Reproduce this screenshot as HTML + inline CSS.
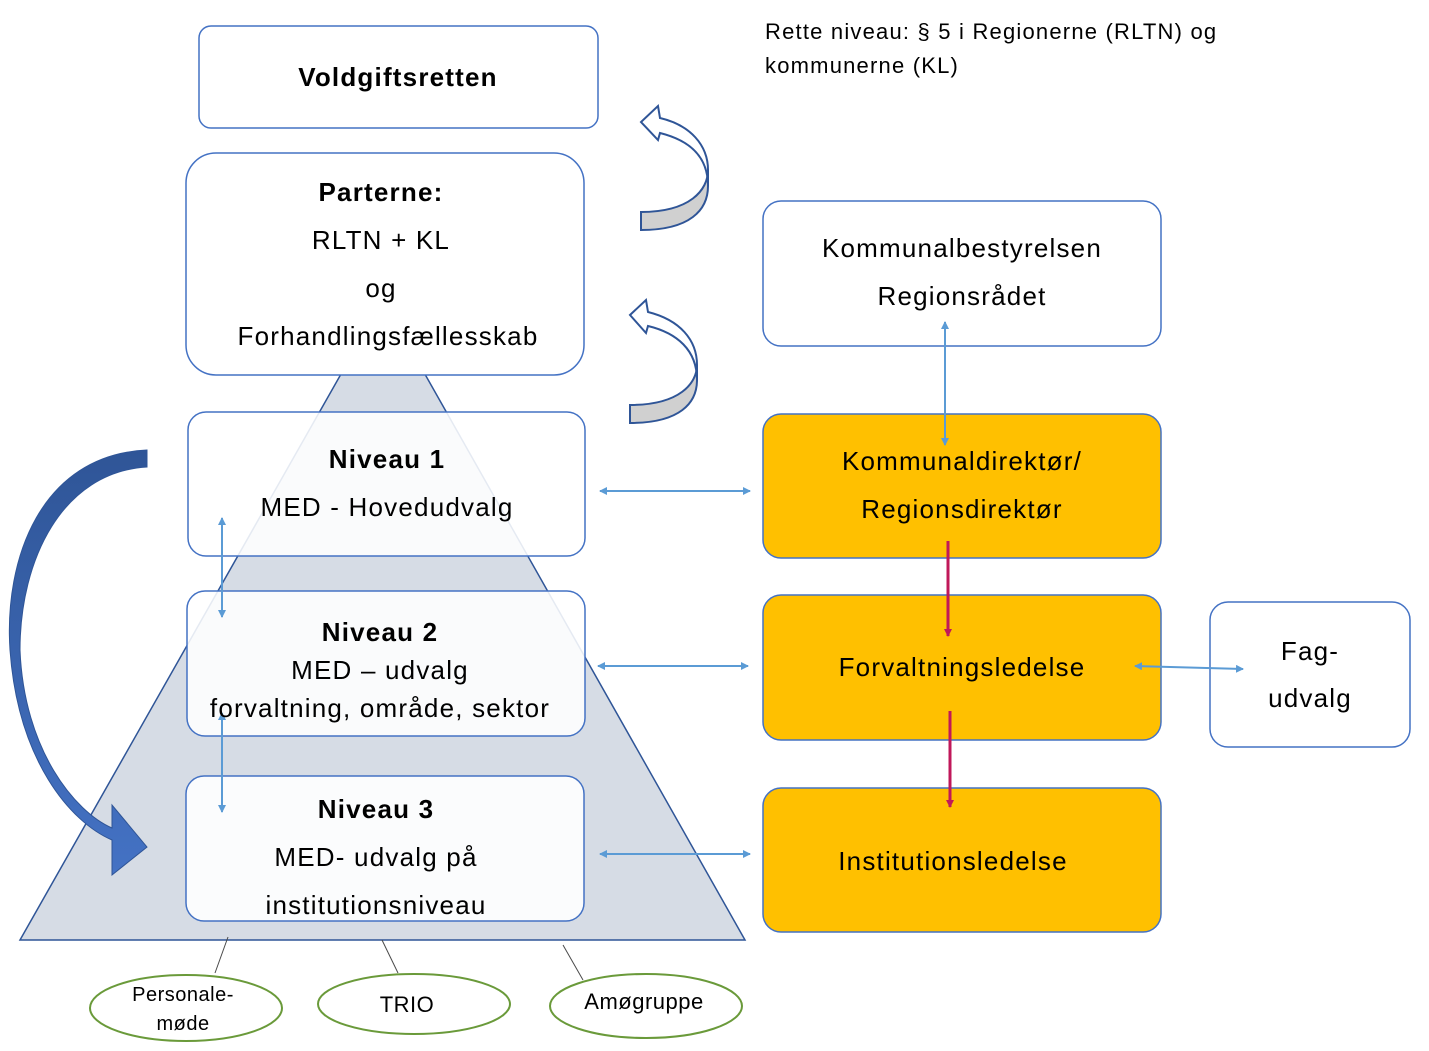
<!DOCTYPE html>
<html><head><meta charset="utf-8"><style>
body{margin:0;background:#fff}
svg{display:block;font-family:"Liberation Sans",sans-serif}
</style></head><body>
<svg width="1429" height="1051" viewBox="0 0 1429 1051" xmlns="http://www.w3.org/2000/svg">
<defs>
<marker id="a" markerWidth="8" markerHeight="8" refX="7" refY="4" orient="auto-start-reverse" markerUnits="userSpaceOnUse"><path d="M0,0 L8,4 L0,8 Z" fill="#5b9bd5"/></marker>
<marker id="r" markerWidth="8" markerHeight="8" refX="7" refY="4" orient="auto" markerUnits="userSpaceOnUse"><path d="M0,0 L8,4 L0,8 Z" fill="#c0185a"/></marker>
<linearGradient id="g" x1="0" y1="0" x2="0" y2="1"><stop offset="0" stop-color="#2f5597"/><stop offset="1" stop-color="#4472c4"/></linearGradient>
</defs>
<polygon points="383,300 20,940 745,940" fill="#d6dce5" stroke="#2f5597" stroke-width="1.5"/>
<g fill="none" stroke="#4a4a4a" stroke-width="1">
<line x1="215" y1="973" x2="228" y2="937"/><line x1="398" y1="973" x2="382" y2="940"/><line x1="583" y1="980" x2="563" y2="945"/>
</g>
<g fill="#fff" stroke="#6a9a3a" stroke-width="2">
<ellipse cx="186" cy="1008" rx="96" ry="33"/><ellipse cx="414" cy="1004" rx="96" ry="30"/><ellipse cx="646" cy="1006" rx="96" ry="32"/>
</g>
<g stroke="#4472c4" stroke-width="1.5">
<rect x="199" y="26" width="399" height="102" rx="12" fill="#fff"/>
<rect x="186" y="153" width="398" height="222" rx="30" fill="#fff"/>
<rect x="188" y="412" width="397" height="144" rx="18" fill="rgba(255,255,255,0.88)"/>
<rect x="187" y="591" width="398" height="145" rx="18" fill="rgba(255,255,255,0.88)"/>
<rect x="186" y="776" width="398" height="145" rx="18" fill="rgba(255,255,255,0.9)"/>
<rect x="763" y="201" width="398" height="145" rx="18" fill="#fff"/>
<rect x="763" y="414" width="398" height="144" rx="18" fill="#ffc000"/>
<rect x="763" y="595" width="398" height="145" rx="18" fill="#ffc000"/>
<rect x="763" y="788" width="398" height="144" rx="18" fill="#ffc000"/>
<rect x="1210" y="602" width="200" height="145" rx="18" fill="#fff"/>
</g>
<path d="M147,450 C40,455 4,560 10,650 C18,760 70,822 112,840 L112,875 L147,847 L112,805 L112,828 C75,812 24,750 20,650 C20,560 62,472 147,467 Z" fill="url(#g)" stroke="#2f5597" stroke-width="1"/>
<g stroke="#2f5597" stroke-width="2">
<path d="M641,212 C690,212 708,190 708,170 L708,186 C708,210 690,230 641,230 Z" fill="#d0d0d0"/>
<path d="M708,170 C708,145 690,125 660,118 L658,106 L641,122 L658,140 L660,133 C688,140 708,155 708,186 Z" fill="#fff"/>
<path d="M630,405 C680,405 697,383 697,365 L697,380 C697,403 680,423 630,423 Z" fill="#d0d0d0"/>
<path d="M697,365 C697,340 680,320 648,312 L646,300 L630,315 L646,333 L648,326 C677,333 697,350 697,380 Z" fill="#fff"/>
</g>
<g stroke="#5b9bd5" stroke-width="2" marker-start="url(#a)" marker-end="url(#a)">
<line x1="600" y1="491" x2="750" y2="491"/><line x1="598" y1="666" x2="748" y2="666"/><line x1="600" y1="854" x2="750" y2="854"/>
<line x1="945" y1="322" x2="945" y2="445"/><line x1="222" y1="518" x2="222" y2="617"/><line x1="222" y1="713" x2="222" y2="812"/>
<line x1="1135" y1="666" x2="1243" y2="669"/>
</g>
<g stroke="#c0185a" stroke-width="3" marker-end="url(#r)">
<line x1="948" y1="541" x2="948" y2="636"/><line x1="950" y1="711" x2="950" y2="807"/>
</g>
<g font-size="26" fill="#000" text-anchor="middle" letter-spacing="1.2">
<text x="398" y="86" font-weight="bold">Voldgiftsretten</text>
<text x="381" y="201" font-weight="bold">Parterne:</text>
<text x="381" y="249">RLTN + KL</text>
<text x="381" y="297">og</text>
<text x="388" y="345">Forhandlingsfællesskab</text>
<text x="387" y="468" font-weight="bold">Niveau 1</text>
<text x="387" y="516">MED - Hovedudvalg</text>
<text x="380" y="641" font-weight="bold">Niveau 2</text>
<text x="380" y="679">MED – udvalg</text>
<text x="380" y="717">forvaltning, område, sektor</text>
<text x="376" y="818" font-weight="bold">Niveau 3</text>
<text x="376" y="866">MED- udvalg på</text>
<text x="376" y="914">institutionsniveau</text>
<text x="962" y="257">Kommunalbestyrelsen</text>
<text x="962" y="305">Regionsrådet</text>
<text x="962" y="470">Kommunaldirektør/</text>
<text x="962" y="518">Regionsdirektør</text>
<text x="962" y="676">Forvaltningsledelse</text>
<text x="953" y="870">Institutionsledelse</text>
<text x="1310" y="660">Fag-</text>
<text x="1310" y="707">udvalg</text>
</g>
<g font-size="20" fill="#000" text-anchor="middle" letter-spacing="0.5">
<text x="183" y="1001">Personale-</text>
<text x="183" y="1030">møde</text>
<text x="407" y="1012" font-size="22">TRIO</text>
<text x="644" y="1009" font-size="22">Amøgruppe</text>
</g>
<g font-size="22" letter-spacing="1.2">
<text x="765" y="39">Rette niveau: § 5 i Regionerne (RLTN) og</text>
<text x="765" y="73">kommunerne (KL)</text>
</g>
</svg>
</body></html>
